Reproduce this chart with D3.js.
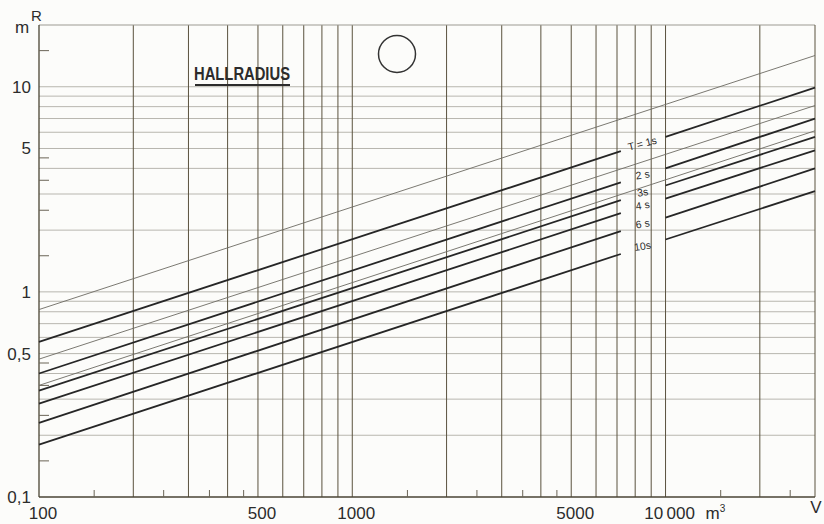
<!DOCTYPE html>
<html>
<head>
<meta charset="utf-8">
<script src="https://cdn.jsdelivr.net/npm/d3@7"></script>
<style>
  body { margin: 0; background: #fcfcfa; }
  text { font-family: "Liberation Sans", Arial, sans-serif; fill: #2c2c2c; }
</style>
</head>
<body>
<script>
(function() {

    const width = 824;
    const height = 524;

    // reverberation time curves (thick), radius read at V = 100, 7200, 10000, 30000 m3
    const periodLabels = ["T = 1s", "2 s", "3s", "4 s", "6 s", "10s"];
    const r100   = [0.57, 0.40, 0.33, 0.285, 0.23, 0.18];
    const r7200  = [4.85, 3.42, 2.8, 2.42, 1.98, 1.53];
    const r10000 = [5.7, 4.0, 3.3, 2.85, 2.3, 1.8];
    const r30000 = [9.9, 7.0, 5.7, 4.9, 4.0, 3.1];

    // thin unlabelled curves, radius at V = 100 and 30000 m3
    const thin100   = [0.82, 0.47, 0.35];
    const thin30000 = [14.2, 8.1, 6.1];

    // grid and ticks
    const gridV = [200, 300, 400, 500, 600, 700, 800, 900, 1000,
                   2000, 3000, 4000, 5000, 6000, 7000, 8000, 9000, 10000, 20000];
    const tickV = [150, 250, 350, 450, 1500, 2500, 3500, 4500, 15000, 25000];
    const gridR = [0.2, 0.3, 0.4, 0.5, 0.6, 0.7, 0.8, 0.9, 1,
                   2, 3, 4, 5, 6, 7, 8, 9, 10];
    const tickR = [0.15, 0.25, 0.35, 0.45, 1.5, 2.5, 3.5, 4.5, 15];

    const xLabelValues = [100, 500, 1000, 5000, 10000];
    const xLabelText = ["100", "500", "1000", "5000", "10\u2009000"];
    const yLabelValues = [0.1, 0.5, 1, 5, 10];
    const yLabelText = ["0,1", "0,5", "1", "5", "10"];

    const left = 39, right = 815, top = 25, bottom = 497;

    const x = d3.scaleLog().domain([100, 30000]).range([left, right]);
    const y = d3.scaleLog().domain([0.1, 20]).range([bottom, top]);

    const svg = d3.select("body").append("svg")
        .attr("width", width)
        .attr("height", height);

    // horizontal grid (light)
    svg.append("g").selectAll("line")
        .data(gridR)
        .enter()
        .append("line")
        .attr("x1", left).attr("x2", right)
        .attr("y1", d => y(d)).attr("y2", d => y(d))
        .style("stroke", "#b8b6af")
        .style("stroke-width", 1);

    // vertical grid (darker)
    svg.append("g").selectAll("line")
        .data(gridV)
        .enter()
        .append("line")
        .attr("x1", d => x(d)).attr("x2", d => x(d))
        .attr("y1", top).attr("y2", bottom)
        .style("stroke", "#5a523e")
        .style("stroke-width", 1);

    // frame
    svg.append("line").attr("x1", left).attr("x2", right).attr("y1", top).attr("y2", top)
        .style("stroke", "#9c9a92").style("stroke-width", 1);
    svg.append("line").attr("x1", right).attr("x2", right).attr("y1", top).attr("y2", bottom)
        .style("stroke", "#5a523e").style("stroke-width", 1);
    svg.append("line").attr("x1", left).attr("x2", left).attr("y1", top).attr("y2", bottom)
        .style("stroke", "#4a4434").style("stroke-width", 1.3);
    svg.append("line").attr("x1", left).attr("x2", right).attr("y1", bottom).attr("y2", bottom)
        .style("stroke", "#4a4434").style("stroke-width", 1.3);

    // inner ticks
    svg.append("g").selectAll("line")
        .data(tickR)
        .enter()
        .append("line")
        .attr("x1", left).attr("x2", left + 10)
        .attr("y1", d => y(d)).attr("y2", d => y(d))
        .style("stroke", "#6a6456").style("stroke-width", 1);

    svg.append("g").selectAll("line")
        .data(tickV)
        .enter()
        .append("line")
        .attr("x1", d => x(d)).attr("x2", d => x(d))
        .attr("y1", bottom).attr("y2", bottom - 7)
        .style("stroke", "#6a6456").style("stroke-width", 1);

    const line = d3.line().x(d => x(d[0])).y(d => y(d[1]));

    // thin curves, continuous
    svg.append("g").selectAll("path")
        .data(thin100.map((v, i) => [[100, v], [30000, thin30000[i]]]))
        .enter()
        .append("path")
        .attr("d", line)
        .style("fill", "none")
        .style("stroke", "#6c6a62")
        .style("stroke-width", 0.9);

    // thick curves, broken for the labels
    const segs = [];
    r100.forEach((v, i) => {
        segs.push([[100, v], [7200, r7200[i]]]);
        segs.push([[10000, r10000[i]], [30000, r30000[i]]]);
    });
    svg.append("g").selectAll("path")
        .data(segs)
        .enter()
        .append("path")
        .attr("d", line)
        .style("fill", "none")
        .style("stroke", "#262626")
        .style("stroke-width", 1.8);

    // curve labels in the gap
    const angle = Math.atan2(y(10) - y(1), x(10000) - x(100)) * 180 / Math.PI;
    svg.append("g").selectAll("text")
        .data(periodLabels)
        .enter()
        .append("text")
        .attr("transform", (d, i) => {
            const cx = (x(7200) + x(10000)) / 2;
            const cy = (y(r7200[i]) + y(r10000[i])) / 2 + 3;
            return "translate(" + cx + "," + cy + ") rotate(" + (angle * (i == 0 ? 0.8 : 0.5)) + ")";
        })
        .attr("text-anchor", "middle")
        .style("font-size", "10.5px")
        .text(d => d);

    // axis labels
    svg.append("g").selectAll("text")
        .data(xLabelValues)
        .enter()
        .append("text")
        .attr("x", d => x(d) + 4)
        .attr("y", 519)
        .attr("text-anchor", "middle")
        .style("font-size", "17px")
        .text((d, i) => xLabelText[i]);

    const m3 = svg.append("text")
        .attr("x", x(10000) + 40)
        .attr("y", 519)
        .style("font-size", "17px");
    m3.append("tspan").text("m");
    m3.append("tspan").attr("dy", -7).style("font-size", "10px").text("3");

    svg.append("text")
        .attr("x", 816).attr("y", 513)
        .attr("text-anchor", "middle")
        .style("font-size", "17px")
        .text("V");

    svg.append("g").selectAll("text")
        .data(yLabelValues)
        .enter()
        .append("text")
        .attr("x", 31)
        .attr("y", d => y(d) + 6)
        .attr("text-anchor", "end")
        .style("font-size", "17px")
        .text((d, i) => yLabelText[i]);

    svg.append("text")
        .attr("x", 15).attr("y", 33)
        .style("font-size", "17px")
        .text("m");
    svg.append("text")
        .attr("x", 31).attr("y", 21)
        .style("font-size", "15px")
        .text("R");

    // title and symbol
    svg.append("text")
        .attr("x", 194).attr("y", 80)
        .attr("textLength", 96)
        .attr("lengthAdjust", "spacingAndGlyphs")
        .style("font-size", "18px")
        .style("font-weight", "bold")
        .text("HALLRADIUS");
    svg.append("line")
        .attr("x1", 195).attr("x2", 290).attr("y1", 85).attr("y2", 85)
        .style("stroke", "#2c2c2c").style("stroke-width", 2);

    svg.append("circle")
        .attr("cx", 397).attr("cy", 54).attr("r", 18.5)
        .style("fill", "none")
        .style("stroke", "#333")
        .style("stroke-width", 1.5);

})();
</script>
</body>
</html>
